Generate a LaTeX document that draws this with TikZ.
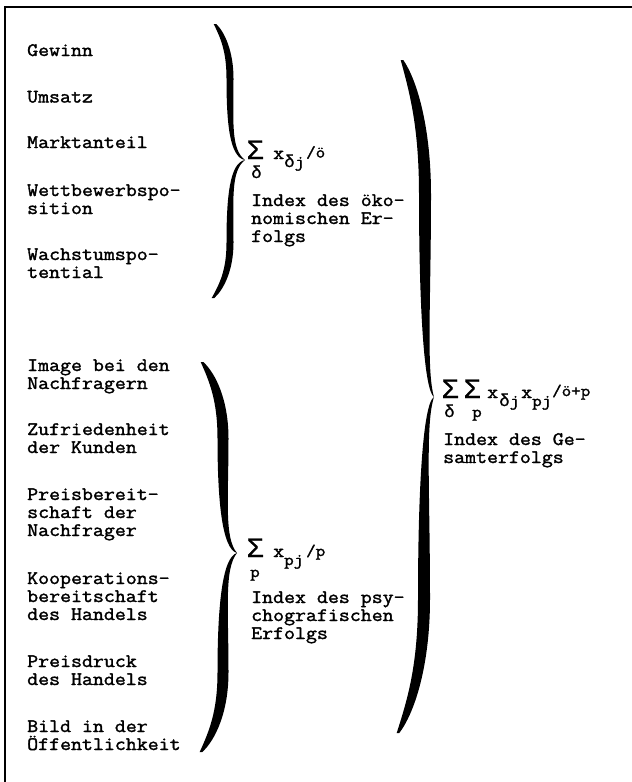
\documentclass[tikz,border=0pt]{standalone}
\usepackage{fontspec}
\newfontfamily\tw[FakeBold=1.7,FakeStretch=1.12]{Latin Modern Mono}
\newfontfamily\gk[FakeBold=0.8]{Liberation Mono}
\newcommand\stk[1]{\vtop{\baselineskip=18pt\lineskiplimit=-50pt\lineskip=0pt\halign{##\hfil\cr#1\crcr}}}
\newcommand\putat[3]{\rlap{\kern#1pt\raise#2pt\hbox{#3}}}
\newcommand\bigsig{{\gk\fontsize{28}{28}\selectfont Σ}}
\newcommand\smf{\tw\fontsize{16.5}{16}\selectfont}
\newcommand\smg{\gk\fontsize{17.5}{16}\selectfont}
\newcommand\bracehalf[6]{%
 \fill ({#1+1.3},#2)
  .. controls ({#1+0.5*(#3-#1)+0.3*#6},{#2+0.06*(#5-#2)}) and ({#3+0.5*#6},{#2+0.2*(#5-#2)}) .. ({#3+0.5*#6},{#2+0.4*(#5-#2)})
  .. controls ({#3+0.5*#6},{#2+0.72*(#5-#2)}) and ({#3+0.1*#6},{#5-0.08*(#5-#2)}) .. (#4,#5)
  .. controls ({#3-0.1*#6},{#5-0.02*(#5-#2)}) and ({#3-0.5*#6},{#2+0.72*(#5-#2)}) .. ({#3-0.5*#6},{#2+0.4*(#5-#2)})
  .. controls ({#3-0.5*#6},{#2+0.2*(#5-#2)}) and ({#1+0.5*(#3-#1)-0.3*#6},{#2+0.1*(#5-#2)}) .. ({#1-1.3},#2)
  -- cycle;}
\tikzset{
 item/.style={anchor=base west, inner sep=0pt, font=\tw\fontsize{19}{18}\selectfont},
 formula/.style={anchor=base west, inner sep=0pt, font=\tw\fontsize{19}{18}\selectfont},
 frame/.style={line width=1.6pt}
}
\begin{document}
\begin{tikzpicture}[x=1pt,y=-1pt]
\useasboundingbox (0,0) rectangle (632,782);
\draw[frame] (5,782) -- (5,7) -- (632,7);
% group A
\node[item] (a1) at (27,56) {Gewinn};
\node[item] (a2) at (27,102.5) {Umsatz};
\node[item] (a3) at (27,148) {Marktanteil};
\node[item] (a4) at (27,196) {\stk{Wettbewerbspo-\cr sition}};
\node[item] (a5) at (27,260) {\stk{Wachstumspo-\cr tential}};
% group B
\node[item] (b1) at (27,371) {\stk{Image bei den\cr Nachfragern}};
\node[item] (b2) at (27,435) {\stk{Zufriedenheit\cr der Kunden}};
\node[item] (b3) at (27,500) {\stk{Preisbereit-\cr schaft der\cr Nachfrager}};
\node[item] (b4) at (27,584) {\stk{Kooperations-\cr bereitschaft\cr des Handels}};
\node[item] (b5) at (27,667) {\stk{Preisdruck\cr des Handels}};
\node[item] (b6) at (27,732) {\stk{Bild in der\cr Öffentlichkeit}};
% braces
\bracehalf{215}{24}{230}{245}{160}{7}
\bracehalf{213}{298}{230}{245}{160}{7}
\bracehalf{202}{362}{223}{237}{553}{11}
\bracehalf{201}{752}{223}{237}{553}{11}
\bracehalf{402}{60}{425}{434}{397}{12}
\bracehalf{398}{733}{424}{434}{397}{12}
% formula 1
\node[formula] (f1) at (246.5,159) {\hbox to 79pt{%
  \putat{0}{0}{\bigsig}\putat{4.5}{-19}{\smg δ}\putat{26.5}{0}{x}%
  \putat{37.5}{-8}{{\smg δ}\smf j}\putat{59.5}{1.5}{\smf /ö}\hfil}};
\node[item] (t1) at (251,206) {\stk{Index des öko-\cr nomischen Er-\cr folgs}};
% formula 2
\node[formula] (f2) at (246.5,557) {\hbox to 79pt{%
  \putat{0}{0}{\bigsig}\putat{3.5}{-20}{\smf p}\putat{26.5}{0}{x}%
  \putat{37.5}{-8}{\smf pj}\putat{59.5}{1}{\smf /p}\hfil}};
\node[item] (t2) at (251,603) {\stk{Index des psy-\cr chografischen\cr Erfolgs}};
% formula 3
\node[formula] (f3) at (441.5,398) {\hbox to 157pt{%
  \putat{0}{0}{\bigsig}\putat{22}{0}{\bigsig}%
  \putat{2.5}{-19}{\smg δ}\putat{30.5}{-19}{\smf p}%
  \putat{45.5}{0}{x}\putat{57.5}{-8}{{\smg δ}\smf j}%
  \putat{79.5}{0}{x}\putat{90.5}{-8}{\smf pj}\putat{110.5}{2}{\smf /ö+p}\hfil}};
\node[item] (t3) at (443,445) {\stk{Index des Ge-\cr samterfolgs}};
\end{tikzpicture}
\end{document}
